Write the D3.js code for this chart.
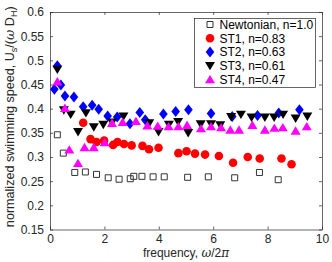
<!DOCTYPE html>
<html>
<head>
<meta charset="utf-8">
<script src="https://cdn.jsdelivr.net/npm/d3@7"></script>
<style>
  body { margin: 0; background: #fff; }
  #chart { width: 332px; height: 262px; }
  text { font-family: "Liberation Sans", Arial, sans-serif; }
</style>
</head>
<body>
<div id="chart"></div>
<script>
// frequency values and swimming speeds
const newtF = [0.27, 0.49, 0.91, 1.3, 1.71, 2.14, 2.54, 2.95, 3.08, 3.38, 3.79, 4.2, 5.06, 5.82, 6.79, 7.7, 8.39];
const newtV = [0.346, 0.308, 0.268, 0.269, 0.264, 0.257, 0.254, 0.255, 0.26, 0.26, 0.259, 0.259, 0.258, 0.259, 0.257, 0.268, 0.253];

const st1F = [1.22, 1.49, 1.71, 1.99, 2.32, 2.48, 2.72, 3.0, 3.4, 3.64, 3.99, 4.72, 5.02, 5.33, 5.7, 6.21, 6.73, 7.27, 7.71, 8.51, 8.88];
const st1V = [0.371, 0.337, 0.331, 0.334, 0.325, 0.331, 0.327, 0.324, 0.323, 0.316, 0.319, 0.308, 0.312, 0.307, 0.305, 0.302, 0.288, 0.3, 0.297, 0.297, 0.285];

const st2F = [0.16, 0.27, 0.4, 0.55, 0.88, 1.22, 1.55, 1.79, 2.12, 2.47, 2.94, 3.3, 3.5, 4.17, 4.62, 5.09, 5.92, 6.7, 7.63, 8.41, 9.17];
const st2V = [0.44, 0.489, 0.449, 0.426, 0.424, 0.404, 0.407, 0.399, 0.385, 0.383, 0.369, 0.392, 0.377, 0.389, 0.394, 0.398, 0.39, 0.384, 0.386, 0.391, 0.398];

const st3F = [0.27, 0.51, 0.76, 1.03, 1.32, 1.61, 1.96, 2.28, 2.7, 3.65, 3.99, 4.37, 4.71, 5.08, 5.54, 5.92, 6.26, 6.66, 7.02, 7.41, 7.9, 8.24, 8.57, 9.03, 9.46];
const st3V = [0.481, 0.397, 0.388, 0.352, 0.391, 0.362, 0.367, 0.372, 0.384, 0.37, 0.352, 0.367, 0.373, 0.35, 0.368, 0.368, 0.366, 0.383, 0.388, 0.382, 0.382, 0.382, 0.388, 0.38, 0.384];

const st4F = [0.27, 0.55, 0.71, 1.03, 1.27, 1.61, 2.01, 2.28, 2.67, 3.16, 3.58, 3.96, 4.36, 4.72, 5.04, 5.55, 5.92, 6.29, 6.63, 6.95, 7.44, 7.9, 8.25, 8.56, 9.03, 9.44];
const st4V = [0.456, 0.401, 0.315, 0.287, 0.32, 0.32, 0.33, 0.37, 0.372, 0.374, 0.365, 0.364, 0.363, 0.363, 0.366, 0.359, 0.363, 0.361, 0.356, 0.356, 0.366, 0.356, 0.36, 0.361, 0.354, 0.363];

const xTicks = [0, 2, 4, 6, 8, 10];
const yTicks = [0.15, 0.2, 0.25, 0.3, 0.35, 0.4, 0.45, 0.5, 0.55, 0.6];
const legendLabels = ['Newtonian, n=1.0', 'ST1, n=0.83', 'ST2, n=0.63', 'ST3, n=0.61', 'ST4, n=0.47'];

// marker shapes
const shapes = {
  square: 'M-3,-3H3V3H-3Z',
  circle: 'M4.3,0A4.3,4.3 0 1 1 -4.3,0A4.3,4.3 0 1 1 4.3,0Z',
  diamond: 'M0,-5.5L4.3,0L0,5.5L-4.3,0Z',
  down: 'M-5,-3.8L5,-3.8L0,4.6Z',
  up: 'M-5,3.8L5,3.8L0,-4.6Z'
};

const series = [
  { f: newtF, v: newtV, shape: 'square', fill: 'none', stroke: '#333' },
  { f: st1F, v: st1V, shape: 'circle', fill: '#ff0000', stroke: 'none' },
  { f: st2F, v: st2V, shape: 'diamond', fill: '#0000ff', stroke: 'none' },
  { f: st3F, v: st3V, shape: 'down', fill: '#000000', stroke: 'none' },
  { f: st4F, v: st4V, shape: 'up', fill: '#ff00ff', stroke: 'none' }
];

const width = 332, height = 262;
const margin = { top: 12, right: 10, bottom: 32.5, left: 50 };
const innerW = width - margin.left - margin.right;
const innerH = height - margin.top - margin.bottom;

const svg = d3.select('#chart').append('svg')
  .attr('width', width)
  .attr('height', height);

const mg = svg.append('g')
  .attr('transform', `translate(${margin.left},${margin.top})`);

const x = d3.scaleLinear().domain([0, 10]).range([0, innerW]);
const y = d3.scaleLinear().domain([0.15, 0.6]).range([innerH, 0]);

const axisColor = '#262626';
const tickLen = 3;

// axes (box with inward ticks)
const fmtY = d => d3.format('')(+d.toFixed(2));
const styleAxis = g => {
  g.select('.domain').attr('stroke', axisColor).attr('stroke-width', 0.7);
  g.selectAll('.tick line').attr('stroke', axisColor).attr('stroke-width', 0.7);
  g.selectAll('.tick text').attr('fill', axisColor).attr('font-size', 12)
    .attr('font-family', '"Liberation Sans", Arial, sans-serif');
};

mg.append('g')
  .attr('transform', `translate(0,${innerH})`)
  .call(d3.axisBottom(x).tickValues(xTicks).tickSizeInner(-tickLen).tickSizeOuter(0).tickPadding(5))
  .call(styleAxis);

mg.append('g')
  .call(d3.axisTop(x).tickValues(xTicks).tickSizeInner(-tickLen).tickSizeOuter(0).tickFormat(''))
  .call(styleAxis);

mg.append('g')
  .call(d3.axisLeft(y).tickValues(yTicks).tickSizeInner(-tickLen).tickSizeOuter(0).tickPadding(6).tickFormat(fmtY))
  .call(styleAxis);

mg.append('g')
  .attr('transform', `translate(${innerW},0)`)
  .call(d3.axisRight(y).tickValues(yTicks).tickSizeInner(-tickLen).tickSizeOuter(0).tickFormat(''))
  .call(styleAxis);

// data points
series.forEach(s => {
  mg.append('g').selectAll('path')
    .data(s.f.map((f, i) => [f, s.v[i]]))
    .join('path')
    .attr('d', shapes[s.shape])
    .attr('transform', d => `translate(${x(d[0])},${y(d[1])})`)
    .attr('fill', s.fill)
    .attr('stroke', s.stroke)
    .attr('stroke-width', 1);
});

// legend
const lg = svg.append('g').attr('transform', 'translate(194.5,18.5)');
lg.append('rect')
  .attr('width', 121)
  .attr('height', 69)
  .attr('fill', '#fff')
  .attr('stroke', axisColor)
  .attr('stroke-width', 0.7);

series.forEach((s, i) => {
  const row = lg.append('g').attr('transform', `translate(0,${6 + i * 13.75})`);
  row.append('path')
    .attr('d', shapes[s.shape])
    .attr('transform', 'translate(15.5,0)')
    .attr('fill', s.fill)
    .attr('stroke', s.stroke)
    .attr('stroke-width', 1);
  row.append('text')
    .attr('x', 25)
    .attr('y', 4.3)
    .attr('font-size', 12)
    .attr('fill', '#000')
    .text(legendLabels[i]);
});

// axis labels
const xl = svg.append('text')
  .attr('x', margin.left + innerW / 2)
  .attr('y', 257)
  .attr('text-anchor', 'middle')
  .attr('font-size', 12)
  .attr('fill', axisColor);
xl.append('tspan').text('frequency, ');
xl.append('tspan').attr('font-style', 'italic').attr('font-family', '"DejaVu Serif", serif').text('ω');
xl.append('tspan').text('/2');
xl.append('tspan').attr('font-style', 'italic').attr('font-family', '"DejaVu Serif", serif').text('π');

const yl = svg.append('text')
  .attr('transform', `translate(14,${margin.top + innerH / 2 - 4}) rotate(-90)`)
  .attr('text-anchor', 'middle')
  .attr('font-size', 12.6)
  .attr('fill', axisColor);
yl.append('tspan').text('normalized swimming speed, U');
yl.append('tspan').attr('font-size', 9).attr('dy', 3).text('s');
yl.append('tspan').attr('dy', -3).text('/(');
yl.append('tspan').attr('font-style', 'italic').attr('font-family', '"DejaVu Serif", serif').text('ω');
yl.append('tspan').text(' D');
yl.append('tspan').attr('font-size', 9).attr('dy', 3).text('H');
yl.append('tspan').attr('dy', -3).text(')');
</script>
</body>
</html>
